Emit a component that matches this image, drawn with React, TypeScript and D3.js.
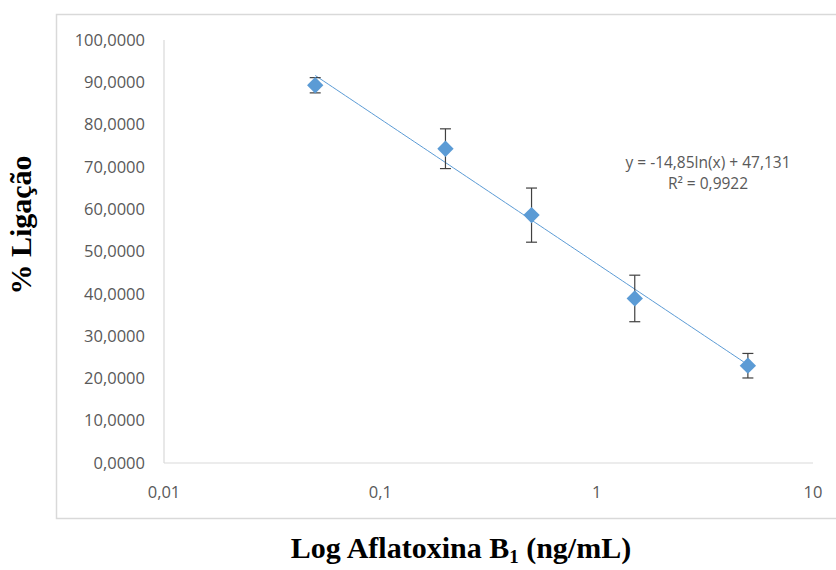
import React, { useEffect, useRef } from "react";
import * as d3 from "d3";

const concentrations = [0.05, 0.2, 0.5, 1.5, 5];
const binding = [89.3, 74.3, 58.6, 38.9, 23.0];
const errors = [1.8, 4.7, 6.4, 5.5, 2.9];
const yTicks = [0, 10, 20, 30, 40, 50, 60, 70, 80, 90, 100];
const xTicks = [0.01, 0.1, 1, 10];
const xTickLabels = ["0,01", "0,1", "1", "10"];
const fitSlope = -14.85;
const fitIntercept = 47.131;
const equationLines = ["y = -14,85ln(x) + 47,131", "R² = 0,9922"];

export default function App() {
  const ref = useRef<SVGSVGElement>(null);
  const width = 836;
  const height = 570;
  const margin = { top: 40, left: 164, bottom: 107, right: 23 };

  useEffect(() => {
    const svg = d3.select(ref.current);
    svg.selectAll("*").remove();

    const iwidth = width - margin.left - margin.right;
    const iheight = height - margin.top - margin.bottom;

    const x = d3.scaleLog().domain([0.01, 10]).range([margin.left, margin.left + iwidth]);
    const y = d3.scaleLinear().domain([0, 100]).range([margin.top + iheight, margin.top]);

    svg.append("rect").attr("width", width).attr("height", height).attr("fill", "#fff");

    // chart frame
    svg.append("rect")
      .attr("x", 56.5).attr("y", 14.5)
      .attr("width", 800).attr("height", 504)
      .attr("fill", "none").attr("stroke", "#d9d9d9").attr("stroke-width", 1.5);

    // axis lines
    svg.append("line")
      .attr("x1", x(0.01)).attr("x2", x(0.01))
      .attr("y1", y(100)).attr("y2", y(0))
      .attr("stroke", "#d9d9d9").attr("stroke-width", 1.2);
    svg.append("line")
      .attr("x1", x(0.01)).attr("x2", x(10))
      .attr("y1", y(0)).attr("y2", y(0))
      .attr("stroke", "#d9d9d9").attr("stroke-width", 1.2);

    const fmtY = (v: number) => v.toFixed(4).replace(".", ",");
    svg.append("g").selectAll("text").data(yTicks).enter().append("text")
      .attr("x", 145).attr("y", d => y(d)).attr("dy", "0.35em")
      .attr("text-anchor", "end")
      .attr("font-family", "Open Sans, sans-serif").attr("font-size", 16.5)
      .attr("fill", "#595959")
      .text(d => fmtY(d));

    svg.append("g").selectAll("text").data(xTicks).enter().append("text")
      .attr("x", d => x(d)).attr("y", y(0) + 29).attr("dy", "0.35em")
      .attr("text-anchor", "middle")
      .attr("font-family", "Open Sans, sans-serif").attr("font-size", 16.5)
      .attr("fill", "#595959")
      .text((d, i) => xTickLabels[i]);

    // trendline
    const fitPts = d3.range(0, 101).map(i => {
      const c = Math.exp(Math.log(concentrations[0]) + (Math.log(concentrations[4]) - Math.log(concentrations[0])) * i / 100);
      return [c, fitSlope * Math.log(c) + fitIntercept];
    });
    svg.append("path")
      .datum(fitPts)
      .attr("d", d3.line<number[]>().x(d => x(d[0])).y(d => y(d[1])))
      .attr("fill", "none").attr("stroke", "#5b9bd5").attr("stroke-width", 1);

    const pts = concentrations.map((c, i) => ({ c, v: binding[i], e: errors[i] }));

    // error bars
    const eb = svg.append("g").attr("stroke", "#404040").attr("stroke-width", 1.2);
    pts.forEach(p => {
      eb.append("line").attr("x1", x(p.c)).attr("x2", x(p.c)).attr("y1", y(p.v + p.e)).attr("y2", y(p.v - p.e));
      eb.append("line").attr("x1", x(p.c) - 5.5).attr("x2", x(p.c) + 5.5).attr("y1", y(p.v + p.e)).attr("y2", y(p.v + p.e));
      eb.append("line").attr("x1", x(p.c) - 5.5).attr("x2", x(p.c) + 5.5).attr("y1", y(p.v - p.e)).attr("y2", y(p.v - p.e));
    });

    // markers
    svg.append("g").selectAll("path").data(pts).enter().append("path")
      .attr("d", d3.symbol().type(d3.symbolDiamond2).size(170))
      .attr("transform", d => `translate(${x(d.c)},${y(d.v)})`)
      .attr("fill", "#5b9bd5");

    // equation
    svg.append("g").selectAll("text").data(equationLines).enter().append("text")
      .attr("x", 708).attr("y", (d, i) => 163 + i * 21).attr("dy", "0.35em")
      .attr("text-anchor", "middle")
      .attr("font-family", "Open Sans, sans-serif").attr("font-size", 15.5)
      .attr("fill", "#595959")
      .text(d => d);

    // axis titles
    svg.append("text")
      .attr("transform", "translate(31,225) rotate(-90)")
      .attr("text-anchor", "middle")
      .attr("font-family", "Liberation Serif, Times New Roman, serif")
      .attr("font-weight", "bold").attr("font-size", 30)
      .attr("fill", "#000")
      .text("% Ligação");

    const xt = svg.append("text")
      .attr("x", 461).attr("y", 558)
      .attr("text-anchor", "middle")
      .attr("font-family", "Liberation Serif, Times New Roman, serif")
      .attr("font-weight", "bold").attr("font-size", 30)
      .attr("fill", "#000");
    xt.append("tspan").text("Log Aflatoxina B");
    xt.append("tspan").attr("font-size", 19).attr("dy", 5).text("1");
    xt.append("tspan").attr("dy", -5).text(" (ng/mL)");
  });

  return (
    <div id="chart">
      <svg ref={ref} width={width} height={height} style={{ position: "absolute", left: 0, top: 0 }} />
    </div>
  );
}
